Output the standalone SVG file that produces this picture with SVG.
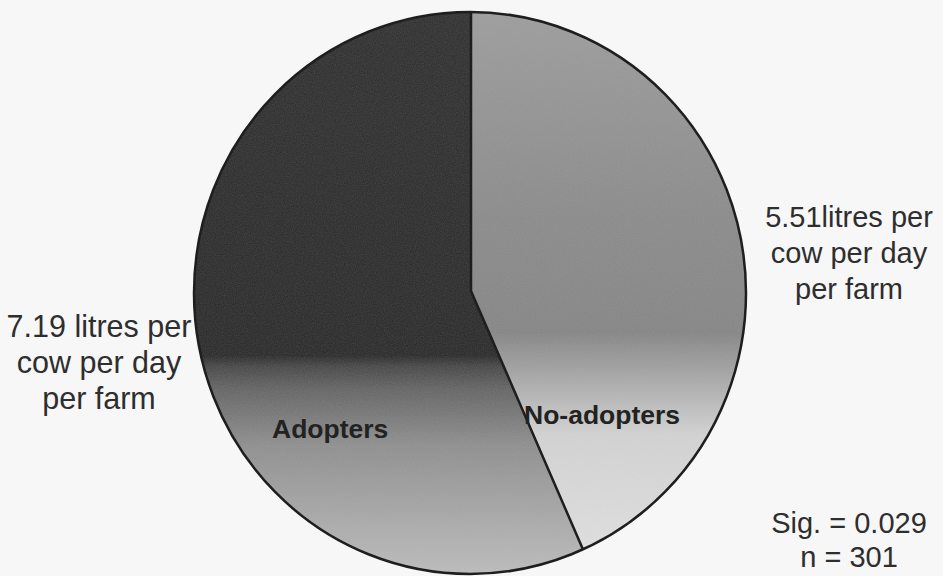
<svg xmlns="http://www.w3.org/2000/svg" width="943" height="576" viewBox="0 0 943 576">
  <style>
    .lbl { font-family: "Liberation Sans", Arial, sans-serif; font-size: 29px; fill: #2e2e2e; text-anchor: middle; }
    .big { font-size: 30.5px; }
    .slice-lbl { font-family: "Liberation Sans", Arial, sans-serif; font-size: 26.5px; font-weight: bold; fill: #222222; }
    .edge { fill: none; stroke: #1e1e1e; stroke-width: 2.5; }
  </style>
  <defs>
    <linearGradient id="gAdopt" gradientUnits="userSpaceOnUse" x1="0" y1="12" x2="0" y2="575">
      <stop offset="0" stop-color="#2c2c2c"/>
      <stop offset="0.61" stop-color="#262626"/>
      <stop offset="0.63" stop-color="#444444"/>
      <stop offset="0.67" stop-color="#626262"/>
      <stop offset="0.77" stop-color="#8e8e8e"/>
      <stop offset="1" stop-color="#bdbdbd"/>
    </linearGradient>
    <linearGradient id="gNo" gradientUnits="userSpaceOnUse" x1="0" y1="12" x2="0" y2="575">
      <stop offset="0" stop-color="#9c9c9c"/>
      <stop offset="0.35" stop-color="#8a8a8a"/>
      <stop offset="0.57" stop-color="#848484"/>
      <stop offset="0.65" stop-color="#a8a8a8"/>
      <stop offset="0.75" stop-color="#d4d4d4"/>
      <stop offset="1" stop-color="#e4e4e4"/>
    </linearGradient>
    <filter id="grain" x="0" y="0" width="100%" height="100%">
      <feTurbulence type="fractalNoise" baseFrequency="0.9" numOctaves="2" seed="3" result="n"/>
      <feColorMatrix in="n" type="matrix" values="0 0 0 0 0.5  0 0 0 0 0.5  0 0 0 0 0.5  0 0 0 0.2 0"/>
    </filter>
    <clipPath id="pieClip">
      <ellipse cx="470" cy="293" rx="276" ry="281"/>
    </clipPath>
  </defs>
  <rect width="943" height="576" fill="#f7f7f7"/>

  <g id="slice-no-adopters">
    <path d="M 471,291 L 471,12 A 276 281 0 0 1 583,549.5 Z" fill="url(#gNo)"/>
  </g>
  <g id="slice-adopters">
    <path d="M 471,291 L 583,549.5 A 276 281 0 1 1 471,12 Z" fill="url(#gAdopt)"/>
  </g>
  <g id="texture" clip-path="url(#pieClip)">
    <rect x="190" y="10" width="560" height="566" filter="url(#grain)"/>
  </g>
  <g id="connectors">
    <path class="edge" d="M 471,12 L 471,291 L 583,549.5"/>
    <ellipse class="edge" cx="470" cy="293" rx="276" ry="281"/>
  </g>
  <g id="slice-labels">
    <text class="slice-lbl" x="272" y="438">Adopters</text>
    <text class="slice-lbl" x="524" y="424">No-adopters</text>
  </g>

  <g id="label-adopters">
    <text class="lbl big" x="99" y="337">7.19 litres per</text>
    <text class="lbl big" x="99" y="373">cow per day</text>
    <text class="lbl big" x="99" y="409">per farm</text>
  </g>
  <g id="label-no-adopters">
    <text class="lbl" x="849" y="227">5.51litres per</text>
    <text class="lbl" x="849" y="263">cow per day</text>
    <text class="lbl" x="849" y="299">per farm</text>
  </g>
  <g id="stats">
    <text class="lbl" x="849" y="533">Sig. = 0.029</text>
    <text class="lbl" x="849" y="567">n = 301</text>
  </g>
</svg>
